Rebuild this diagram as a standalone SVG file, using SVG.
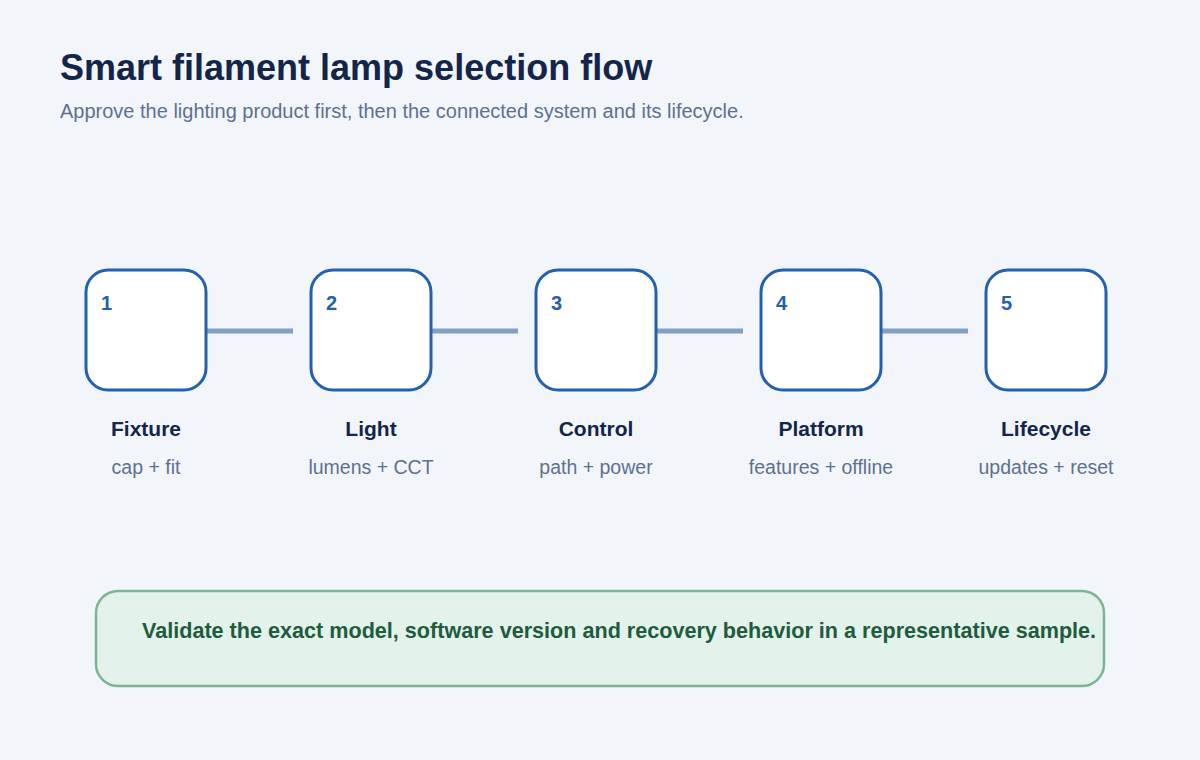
<svg xmlns="http://www.w3.org/2000/svg" width="1200" height="760" viewBox="0 0 1200 760">
<style>
text{font-family:"Liberation Sans",Arial,sans-serif}
.box{fill:#fff;stroke:#2360b0;stroke-width:3}
.num{font-size:20px;font-weight:bold;fill:#2360b0}
.t{font-size:21px;font-weight:bold;fill:#14254a;text-anchor:middle}
.s{font-size:19.5px;fill:#5e7090;text-anchor:middle}
.c{stroke:#81a0c6;stroke-width:5}
</style>
<rect width="1200" height="760" fill="#f2f6fb"/>
<text x="60" y="80" font-size="36" font-weight="bold" fill="#14254a">Smart filament lamp selection flow</text>
<text x="60" y="118" font-size="20" fill="#5e7090">Approve the lighting product first, then the connected system and its lifecycle.</text>
<g id="connectors">
<line class="c" x1="207" y1="331" x2="293" y2="331"/>
<line class="c" x1="432" y1="331" x2="518" y2="331"/>
<line class="c" x1="657" y1="331" x2="743" y2="331"/>
<line class="c" x1="882" y1="331" x2="968" y2="331"/>
</g>
<g id="n1"><rect class="box" x="86" y="270" width="120" height="120" rx="22"/><text class="num" x="101" y="310">1</text><text class="t" x="146" y="436">Fixture</text><text class="s" x="146" y="474">cap + fit</text></g>
<g id="n2"><rect class="box" x="311" y="270" width="120" height="120" rx="22"/><text class="num" x="326" y="310">2</text><text class="t" x="371" y="436">Light</text><text class="s" x="371" y="474">lumens + CCT</text></g>
<g id="n3"><rect class="box" x="536" y="270" width="120" height="120" rx="22"/><text class="num" x="551" y="310">3</text><text class="t" x="596" y="436">Control</text><text class="s" x="596" y="474">path + power</text></g>
<g id="n4"><rect class="box" x="761" y="270" width="120" height="120" rx="22"/><text class="num" x="776" y="310">4</text><text class="t" x="821" y="436">Platform</text><text class="s" x="821" y="474">features + offline</text></g>
<g id="n5"><rect class="box" x="986" y="270" width="120" height="120" rx="22"/><text class="num" x="1001" y="310">5</text><text class="t" x="1046" y="436">Lifecycle</text><text class="s" x="1046" y="474">updates + reset</text></g>
<g id="note"><rect x="96" y="591" width="1008" height="95" rx="22" fill="#e3f2ea" stroke="#7cb595" stroke-width="2.5"/><text x="142" y="638" font-size="21.6" font-weight="bold" fill="#1d5c3c">Validate the exact model, software version and recovery behavior in a representative sample.</text></g>
</svg>
